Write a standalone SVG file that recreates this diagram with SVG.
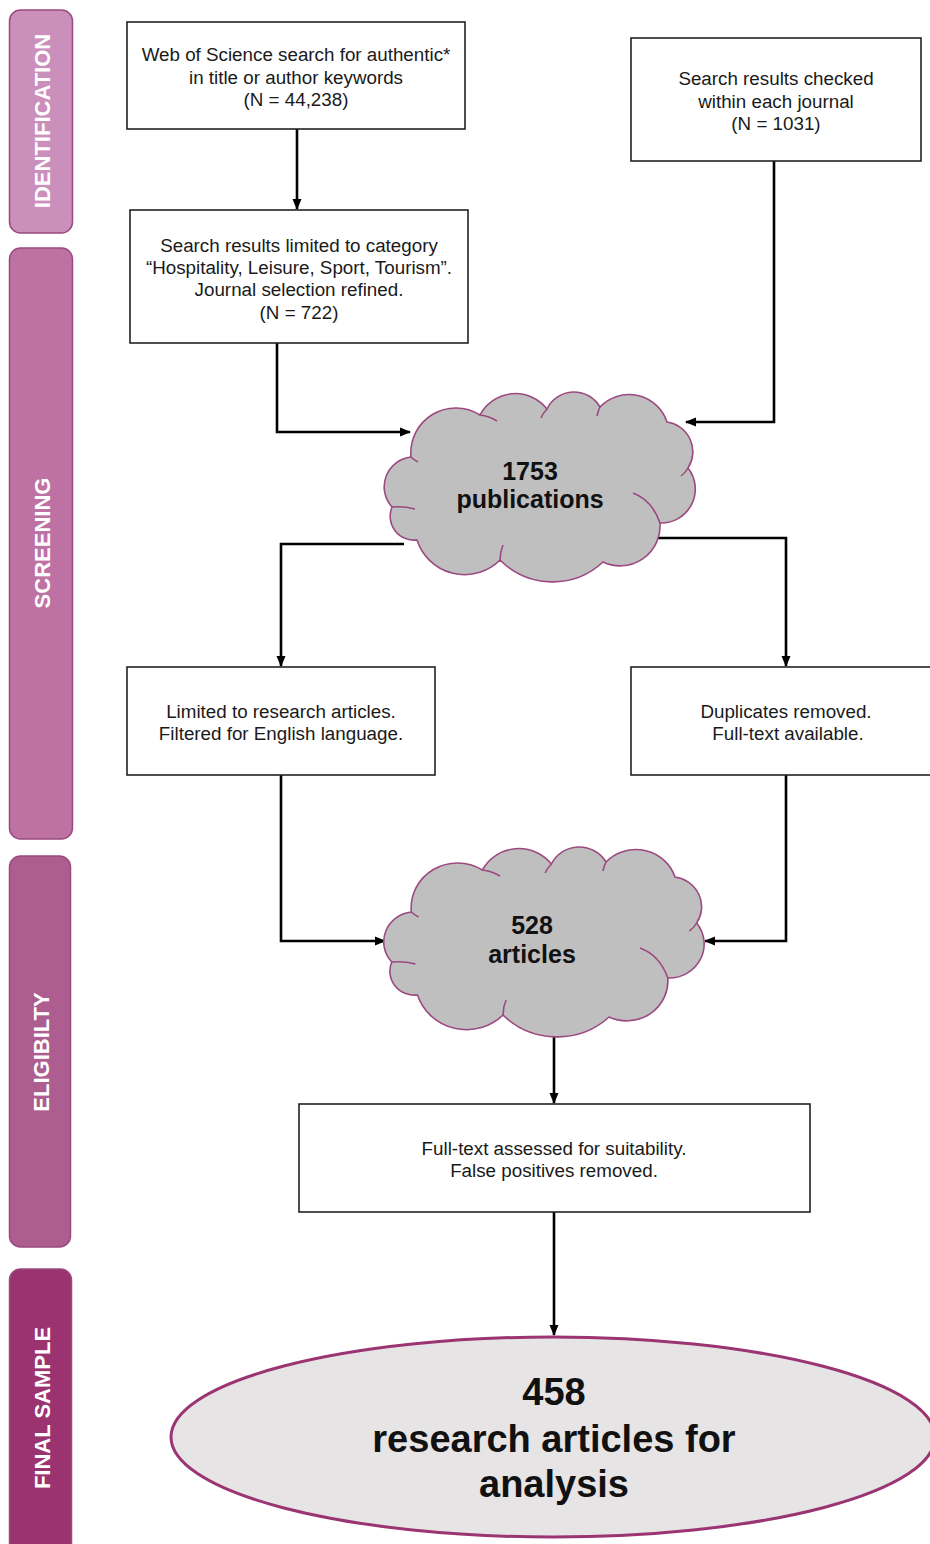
<svg xmlns="http://www.w3.org/2000/svg" width="930" height="1544" viewBox="0 0 930 1544">
<style>
.bar{stroke:#9a4a7f;stroke-width:1.5}
.bar-t{font-family:"Liberation Sans",Arial,sans-serif;font-weight:bold;font-size:22px;fill:#ffffff;text-anchor:middle}
.box{fill:#ffffff;stroke:#222222;stroke-width:1.6}
.bt{font-family:"Liberation Sans",Arial,sans-serif;font-size:18.8px;fill:#1a1a1a;text-anchor:middle}
.cloud{fill:#c0bfc0;stroke:#9b4a80;stroke-width:1.6}
.inner{fill:none;stroke:#9b4a80;stroke-width:1.6}
.ct{font-family:"Liberation Sans",Arial,sans-serif;font-weight:bold;font-size:25px;fill:#111111;text-anchor:middle}
.et{font-family:"Liberation Sans",Arial,sans-serif;font-weight:bold;font-size:38px;fill:#111111;text-anchor:middle}
.conn{fill:none;stroke:#000000;stroke-width:2.6;marker-end:url(#arr)}
</style>
<defs>
<marker id="arr" markerWidth="12" markerHeight="12" refX="10" refY="5" orient="auto" markerUnits="userSpaceOnUse">
<path d="M0,0.5 L11,5 L0,9.5 Z" fill="#000000"/>
</marker>
<g id="cloudShape">
<path class="cloud" vector-effect="non-scaling-stroke" d="M411,457 A45,45 0 0 1 480,415 A40,40 0 0 1 547,409 A30,30 0 0 1 600,407 A40,40 0 0 1 667,422 A30,30 0 0 1 688,468 A34,34 0 0 1 660,523 A40,40 0 0 1 603,562 A74,74 0 0 1 500,560 A50,50 0 0 1 417,540 A24,24 0 0 1 392,507 A30,30 0 0 1 411,457 Z"/>
<path class="inner" vector-effect="non-scaling-stroke" d="M411,457 Q414,460 418,462 M480,415 Q489,416 497,421 M547,409 Q543,413 541,418 M600,407 Q598,411 597,416 M688,468 Q686,472 681,476 M633,493 Q652,500 660,523 M500,560 Q500,552 503,545 M392,507 Q404,506 415,509"/>
</g>
</defs>

<g id="bar-identification">
<rect class="bar" x="9.5" y="10" width="63" height="223" rx="11" fill="#cb8fbb"/>
<text class="bar-t" transform="translate(42,121) rotate(-90)" x="0" y="8">IDENTIFICATION</text>
</g>
<g id="bar-screening">
<rect class="bar" x="9.5" y="248" width="63" height="591" rx="11" fill="#bd72a3"/>
<text class="bar-t" transform="translate(42,543) rotate(-90)" x="0" y="8">SCREENING</text>
</g>
<g id="bar-eligibility">
<rect class="bar" x="9.5" y="856" width="61" height="391" rx="11" fill="#ad5d8f"/>
<text class="bar-t" transform="translate(41,1052) rotate(-90)" x="0" y="8">ELIGIBILTY</text>
</g>
<g id="bar-final">
<rect class="bar" x="9.5" y="1269" width="62" height="290" rx="11" fill="#9b3370"/>
<text class="bar-t" transform="translate(42,1408) rotate(-90)" x="0" y="8">FINAL SAMPLE</text>
</g>

<g id="connectors">
<path class="conn" d="M297,129 V209"/>
<path class="conn" d="M277,343 V432 H410"/>
<path class="conn" d="M774,161 V422 H686"/>
<path class="conn" d="M404,544 H281 V666"/>
<path class="conn" d="M656,538 H786 V666"/>
<path class="conn" d="M281,775 V941 H385"/>
<path class="conn" d="M786,775 V941 H705"/>
<path class="conn" d="M554,1037 V1103"/>
<path class="conn" d="M554,1212 V1335"/>
</g>

<g id="box-wos">
<rect class="box" x="127" y="22" width="338" height="107"/>
<text class="bt" x="296" y="61">Web of Science search for authentic*</text>
<text class="bt" x="296" y="84">in title or author keywords</text>
<text class="bt" x="296" y="106">(N = 44,238)</text>
</g>
<g id="box-journal">
<rect class="box" x="631" y="38" width="290" height="123"/>
<text class="bt" x="776" y="85">Search results checked</text>
<text class="bt" x="776" y="108">within each journal</text>
<text class="bt" x="776" y="130">(N = 1031)</text>
</g>
<g id="box-limited">
<rect class="box" x="130" y="210" width="338" height="133"/>
<text class="bt" x="299" y="252">Search results limited to category</text>
<text class="bt" x="299" y="274">“Hospitality, Leisure, Sport, Tourism”.</text>
<text class="bt" x="299" y="296">Journal selection refined.</text>
<text class="bt" x="299" y="319">(N = 722)</text>
</g>
<g id="cloud-1753">
<use href="#cloudShape"/>
<text class="ct" x="530" y="480">1753</text>
<text class="ct" x="530" y="508">publications</text>
</g>
<g id="box-research">
<rect class="box" x="127" y="667" width="308" height="108"/>
<text class="bt" x="281" y="718">Limited to research articles.</text>
<text class="bt" x="281" y="740">Filtered for English language.</text>
</g>
<g id="box-duplicates">
<rect class="box" x="631" y="667" width="302" height="108"/>
<text class="bt" x="786" y="718">Duplicates removed.</text>
<text class="bt" x="788" y="740">Full-text available.</text>
</g>
<g id="cloud-528">
<use href="#cloudShape" transform="translate(-12,455) scale(1.03,1)"/>
<text class="ct" x="532" y="934">528</text>
<text class="ct" x="532" y="963">articles</text>
</g>
<g id="box-fulltext">
<rect class="box" x="299" y="1104" width="511" height="108"/>
<text class="bt" x="554" y="1155">Full-text assessed for suitability.</text>
<text class="bt" x="554" y="1177">False positives removed.</text>
</g>
<g id="final">
<ellipse cx="553" cy="1437" rx="382" ry="100" fill="#e6e4e5" stroke="#9b3472" stroke-width="3"/>
<text class="et" x="554" y="1405">458</text>
<text class="et" x="554" y="1452">research articles for</text>
<text class="et" x="554" y="1497">analysis</text>
</g>
</svg>
